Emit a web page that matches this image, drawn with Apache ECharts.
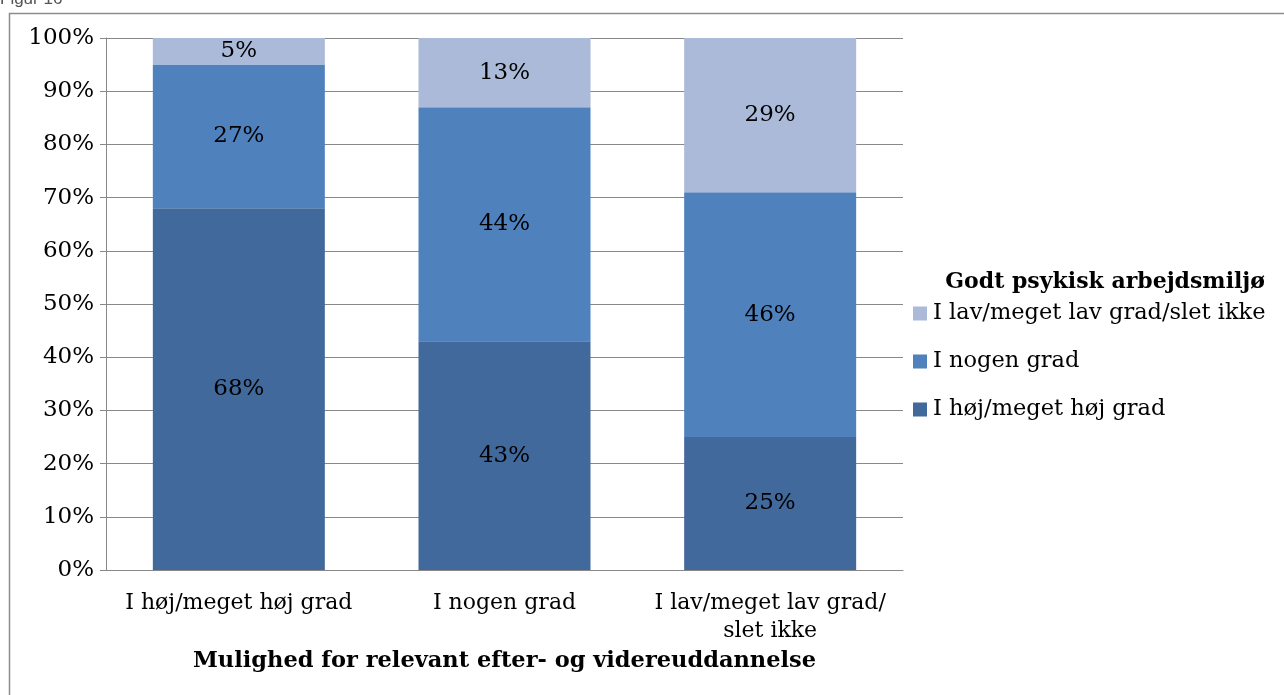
<!DOCTYPE html>
<html><head><meta charset="utf-8">
<script src="https://cdn.jsdelivr.net/npm/echarts@6/dist/echarts.min.js"></script>
<style>html,body{margin:0;padding:0;background:#fff}#c{width:1284px;height:695px}</style>
</head><body><div id="c"></div>
<script>
const categories = ['I høj/meget høj grad', 'I nogen grad', 'I lav/meget lav grad/\nslet ikke'];
const seriesNames = ['I høj/meget høj grad', 'I nogen grad', 'I lav/meget lav grad/slet ikke'];
const valHoj = [68, 43, 25];
const valNogen = [27, 44, 46];
const valLav = [5, 13, 29];
const yTicks = [0, 10, 20, 30, 40, 50, 60, 70, 80, 90, 100];
const legendTitle = 'Godt psykisk arbejdsmiljø';
const xTitle = 'Mulighed for relevant efter- og videreuddannelse';
const figLabel = 'Figur 16';

const colors = ['#41699C', '#4F81BD', '#AABAD8'];
const serif = 'DejaVu Serif';
const lab = {show: true, position: 'inside', color: '#000', fontFamily: serif, fontSize: 23, formatter: '{c}%'};
const vals = [valHoj, valNogen, valLav];

const chart = echarts.init(document.getElementById('c'));
chart.setOption({
  animation: false,
  color: colors,
  grid: {left: 106, right: 381, top: 38, bottom: 125},
  graphic: [
    {type: 'rect', left: 7, top: 11, shape: {width: 1300, height: 700}, style: {fill: 'none', stroke: '#8c8c8c', lineWidth: 1.5}},
    {type: 'text', left: 0, top: -9, style: {text: figLabel, font: '17px "Liberation Sans"', fill: '#555'}},
    {type: 'text', right: 19, top: 271, style: {text: legendTitle, font: 'bold 22px "DejaVu Serif"', fill: '#000'}}
  ],
  legend: {
    orient: 'vertical', left: 908, top: 297,
    data: [seriesNames[2], seriesNames[1], seriesNames[0]],
    itemWidth: 14, itemHeight: 14, itemGap: 25,
    icon: 'rect',
    textStyle: {fontFamily: serif, fontSize: 22.5, color: '#000', lineHeight: 22, padding: [0, 0, 0, 1]}
  },
  xAxis: {
    type: 'category', data: categories,
    name: xTitle, nameLocation: 'middle', nameGap: 75,
    nameTextStyle: {fontFamily: serif, fontWeight: 'bold', fontSize: 22.5, color: '#000'},
    axisLine: {lineStyle: {color: '#888', width: 1}},
    axisTick: {length: 7, interval: 0, lineStyle: {color: '#888'}},
    axisLabel: {interval: 0, fontFamily: serif, fontSize: 22, color: '#000', margin: 19, lineHeight: 28}
  },
  yAxis: {
    type: 'value', min: 0, max: 100, interval: 10,
    axisLine: {show: true, lineStyle: {color: '#888', width: 1}},
    axisTick: {show: true, length: 6, lineStyle: {color: '#888'}},
    splitLine: {lineStyle: {color: '#888', width: 1}},
    axisLabel: {fontFamily: serif, fontSize: 23, color: '#000', margin: 12,
      formatter: v => yTicks.includes(v) ? v + '%' : ''}
  },
  series: seriesNames.map((n, i) => ({
    name: n, type: 'bar', stack: 'a', data: vals[i], barWidth: 172, label: lab
  }))
});
</script></body></html>
